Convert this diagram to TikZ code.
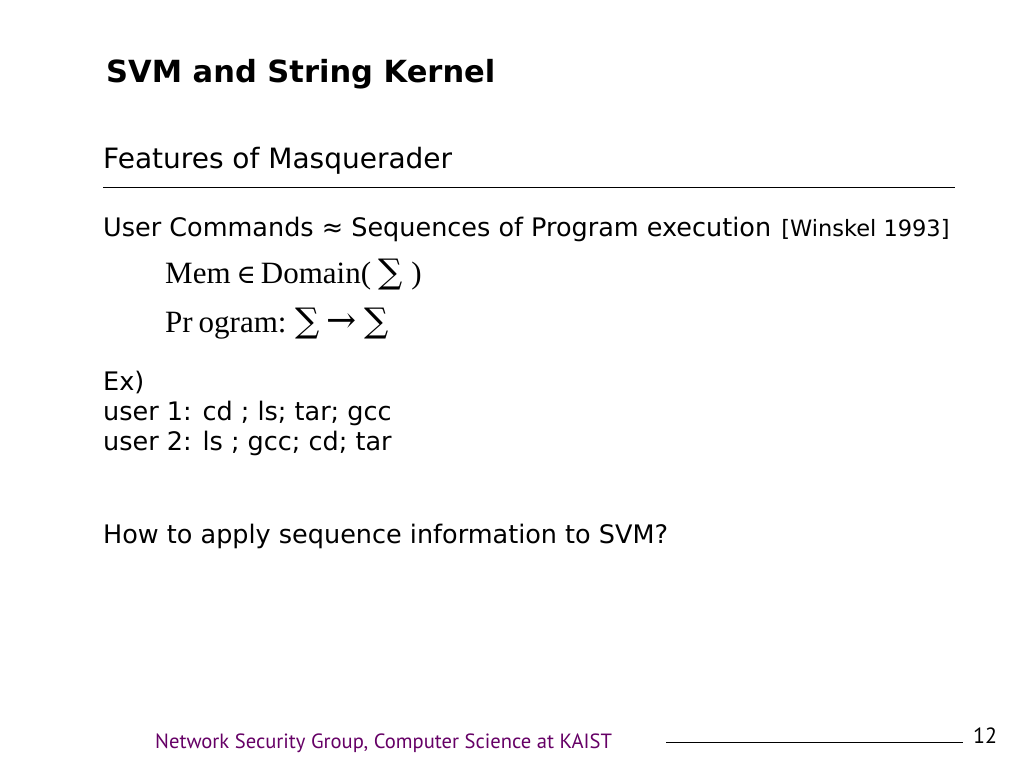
\documentclass[tikz,border=0pt]{standalone}
\usepackage{fontspec}
\setmainfont{DejaVu Sans}
\newfontfamily\tnr{Liberation Serif}
\newfontfamily\symb{DejaVu Serif}
\newfontfamily\foot{PT Sans}
\definecolor{footpurple}{RGB}{102,0,102}
\newcommand{\sym}[2][26]{{\symb\fontsize{#1}{30}\selectfont #2}}

\begin{document}
\begin{tikzpicture}[x=1pt, y=-1pt, every node/.style={anchor=base west, inner sep=0pt},
	title/.style={font=\fontsize{30.5}{34}\selectfont\bfseries},
	subtitle/.style={font=\fontsize{28}{32}\selectfont},
	body/.style={font=\fontsize{25.5}{30}\selectfont},
	mathline/.style={font=\fontsize{31}{34}\selectfont\tnr}]
		\useasboundingbox[fill=white] (0,0) rectangle (1024,768);
		
		\node[title] (title) at (106,82) {SVM and String Kernel};
		\node[subtitle] (sub) at (103,168) {Features of Masquerader};
		\draw[thin] (103,187) -- (955,187);
		
		\node[body] (cmds) at (103,236) {User Commands ≈ Sequences of Program execution \hspace{2pt}\fontsize{22.5}{26}\selectfont[Winskel 1993]};
		\node[mathline] (mem) at (165,283) {Mem\kern6pt\sym{∈}\kern5pt Domain(\kern7pt\sym[34]{∑}\kern9pt)};
		\node[mathline] (prog) at (165,332) {Pr\kern6pt ogram:\kern9pt\sym[34]{∑}\kern7pt\sym[36]{→}\kern7pt\sym[34]{∑}};
		
		% examples
		\node[body] (ex) at (103,390) {Ex)};
		\node[body] (user1) at (103,420) {user 1: cd ; ls; tar; gcc};
		\node[body] (user2) at (103,450) {user 2: ls ; gcc; cd; tar};
		\node[body] (how) at (103,543) {How to apply sequence information to SVM?};
		
		% footer
		\node[font=\fontsize{20.6}{24}\selectfont\foot, text=footpurple] (foot) at (155,748) {Network Security Group, Computer Science at KAIST};
		\draw[thin] (666,742) -- (963,742);
		\node[font=\fontsize{22}{24}\selectfont\foot] (page) at (973,743) {12};
	\end{tikzpicture}
\end{document}
